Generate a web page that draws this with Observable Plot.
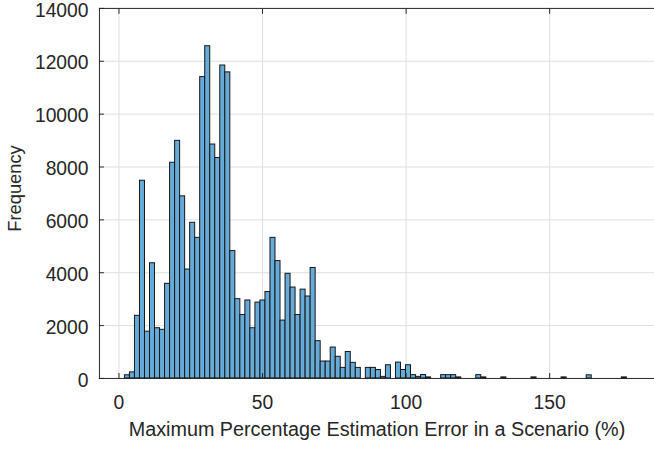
<!DOCTYPE html>
<html><head><meta charset="utf-8">
<script src="https://cdn.jsdelivr.net/npm/d3@7"></script>
<script src="https://cdn.jsdelivr.net/npm/@observablehq/plot@0.6"></script>
<style>html,body{margin:0;padding:0;background:#fff;overflow:hidden;}</style>
</head><body><div id="chart"></div>
<script>
// Histogram bins: first edge and (constant) bin width, in % units
const binStart = 2.07;
const binWidth = 1.748;
// Frequency of each bin
const counts = [
  120, 230, 2370, 7480, 1770, 4360, 1900, 1840, 3580, 8160,
  8990, 6890, 4120, 5890, 5320, 11400, 12570, 8850, 8340, 11840,
  11580, 4820, 3000, 2400, 2950, 1900, 2870, 2950, 3270, 5320,
  4440, 2190, 3960, 3440, 2400, 3360, 3100, 4180, 1410, 640,
  640, 1170, 820, 400, 1000, 590, 400, 0, 400, 400,
  320, 60, 500, 0, 600, 320, 500, 125, 60, 130,
  40, 0, 0, 125, 125, 125, 40, 0, 0, 0,
  125, 40, 0, 0, 0, 40, 0, 0, 0, 0,
  0, 40, 0, 0, 0, 0, 0, 40, 0, 0,
  0, 0, 120, 0, 0, 0, 0, 0, 0, 40
];
const xTicks = [0, 50, 100, 150];
const yTicks = [0, 2000, 4000, 6000, 8000, 10000, 12000, 14000];
const xLabel = "Maximum Percentage Estimation Error in a Scenario (%)";
const yLabel = "Frequency";

const bins = counts.map((c, i) => ({x1: binStart + i * binWidth, x2: binStart + (i + 1) * binWidth, count: c}));
const ink = "#262626";
const gridColor = "#dfdfdf";
const plain = d => String(d);

const chart = Plot.plot({
  width: 661, height: 450,
  marginLeft: 100, marginRight: 0, marginTop: 8, marginBottom: 68,
  style: {fontFamily: '"Liberation Sans", Arial, sans-serif', fontSize: "19.5px", color: ink, background: "#fff"},
  x: {domain: [-6.8, 186.5]},
  y: {domain: [0, 14000]},
  marks: [
    Plot.gridX(xTicks, {stroke: gridColor, strokeOpacity: 1}),
    Plot.gridY(yTicks, {stroke: gridColor, strokeOpacity: 1}),
    Plot.rectY(bins, {x1: "x1", x2: "x2", y: "count", fill: "#66aad7", stroke: "#151515", strokeWidth: 1, inset: 0}),
    Plot.axisX(xTicks, {anchor: "bottom", tickSize: -5, tickFormat: () => "", label: null}),
    Plot.axisX(xTicks, {anchor: "top", tickSize: -5, tickFormat: () => "", label: null}),
    Plot.axisX(xTicks, {anchor: "bottom", tickSize: 0, tickPadding: 17, tickFormat: plain, label: null}),
    Plot.axisY(yTicks, {anchor: "left", tickSize: -5, tickFormat: () => "", label: null}),
    Plot.axisY(yTicks, {anchor: "left", tickSize: 0, tickPadding: 11, dy: 2, tickFormat: plain, label: null}),
    Plot.frame({stroke: ink}),
    Plot.text([xLabel], {text: d => d, frameAnchor: "bottom", lineAnchor: "middle", textAnchor: "middle", dy: 51.6, fontSize: 20, fill: ink}),
    Plot.text([yLabel], {text: d => d, frameAnchor: "left", lineAnchor: "middle", textAnchor: "middle", rotate: -90, dx: -85.4, dy: -5, fontSize: 18.5, fill: ink})
  ]
});
document.getElementById("chart").appendChild(chart);
</script>
</body></html>
